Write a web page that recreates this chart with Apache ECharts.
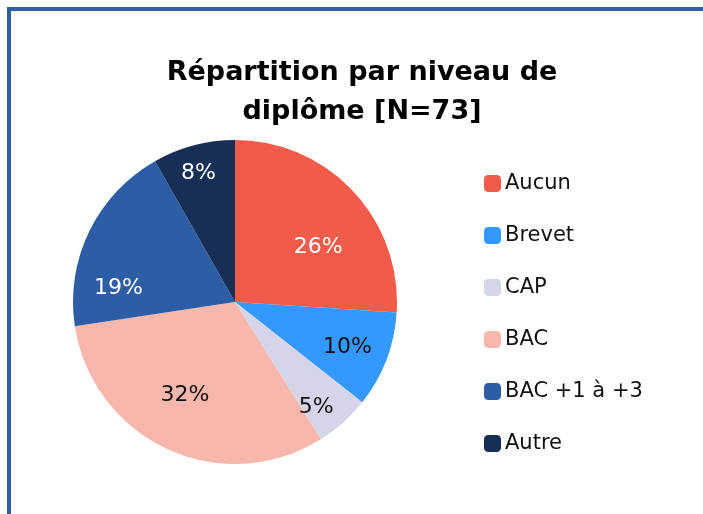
<!DOCTYPE html>
<html>
<head>
<meta charset="utf-8">
<script src="https://cdn.jsdelivr.net/npm/echarts@6/dist/echarts.min.js"></script>
<style>
  html, body { margin: 0; padding: 0; background: #ffffff; }
  #chart { width: 703px; height: 514px; }
</style>
</head>
<body>
<div id="chart"></div>
<script>
const categories = ['Aucun', 'Brevet', 'CAP', 'BAC', 'BAC +1 à +3', 'Autre'];
const counts = [19, 7, 4, 23, 14, 6];
const colors = ['#f15c4a', '#3399ff', '#d4d5e8', '#f7b7ad', '#2d5ea5', '#172f57'];
const labelColors = ['#ffffff', '#111111', '#111111', '#111111', '#ffffff', '#ffffff'];
// nudge of each percentage label away from the default inner position
const labelNudge = [[22, 3], [34, 15], [25, 43], [-15, 17], [-41, 23], [-15, -48]];

const pieData = categories.map((name, i) => ({
  name: name,
  value: counts[i],
  itemStyle: { color: colors[i] },
  label: { color: labelColors[i] }
}));

const chartDom = document.getElementById('chart');
const myChart = echarts.init(chartDom, null, { renderer: 'canvas' });

const option = {
  animation: false,
  backgroundColor: '#ffffff',
  title: {
    text: 'Répartition par niveau de\ndiplôme [N=73]',
    left: 357,
    top: 48,
    textAlign: 'center',
    textStyle: {
      fontFamily: 'DejaVu Sans',
      fontWeight: 'bold',
      fontSize: 27,
      lineHeight: 39,
      color: '#000000'
    }
  },
  legend: {
    orient: 'vertical',
    left: 479,
    top: 168,
    itemWidth: 17,
    itemHeight: 17,
    itemGap: 31,
    icon: 'roundRect',
    selectedMode: false,
    textStyle: {
      fontFamily: 'DejaVu Sans',
      fontSize: 21,
      color: '#111111',
      padding: [0, 0, 0, -1]
    },
    data: categories
  },
  graphic: [{
    type: 'polyline',
    shape: { points: [[9, 520], [9, 9], [710, 9]] },
    style: { stroke: '#2e5ea5', lineWidth: 4, fill: null }
  }],
  series: [{
    type: 'pie',
    center: [235, 302],
    radius: [0, 162],
    startAngle: 90,
    clockwise: true,
    silent: true,
    itemStyle: { borderWidth: 0 },
    label: {
      show: true,
      position: 'inside',
      fontFamily: 'DejaVu Sans',
      fontWeight: 'normal',
      fontSize: 22,
      formatter: function (p) { return Math.round(p.percent) + '%'; }
    },
    labelLine: { show: false },
    labelLayout: function (params) {
      const n = labelNudge[params.dataIndex];
      return { dx: n[0], dy: n[1] };
    },
    data: pieData
  }]
};

myChart.setOption(option);
</script>
</body>
</html>
